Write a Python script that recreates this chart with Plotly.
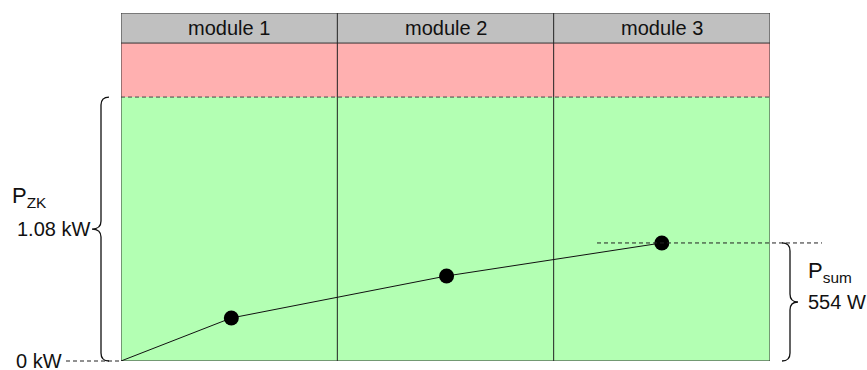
import plotly.graph_objects as go

# ---------------- data ----------------
modules = ["module 1", "module 2", "module 3"]
x_pos = [0, 0.51, 1.505, 2.5]       # position along the modules
p_cum = [0, 176, 348, 483]          # cumulative power (drawing scale, W)
P_ZK = 1080                          # DC-link power limit (W)
RED_TOP = 1301                       # top of red zone
Y_MAX = 1424                         # top of header band
label_zk = "1.08 kW"
label_zero = "0 kW"
label_sum = "554 W"

# ---------------- layout geometry ----------------
W, H = 867, 370
L, R, T, B = 121, 97, 13, 9
PW, PH = W - L - R, H - T - B
FONT = "Liberation Sans, Arial, sans-serif"
TXT = "#111111"

def px_x(px):
    return (px - L) / PW

def px_y(py):
    return (H - B - py) / PH

def val_y(v):
    return v / Y_MAX

def brace(x_line, x_end, x_tip, v0, v1, r=8):
    """curly brace between values v0 (bottom) and v1 (top); pixel x positions."""
    yb, yt = val_y(v0), val_y(v1)
    ym = (yb + yt) / 2
    ry = r / PH
    xl, xe, xt = px_x(x_line), px_x(x_end), px_x(x_tip)
    return (f"M {xe},{yt} Q {xl},{yt} {xl},{yt-ry} "
            f"L {xl},{ym+ry} Q {xl},{ym} {xt},{ym} "
            f"Q {xl},{ym} {xl},{ym-ry} "
            f"L {xl},{yb+ry} Q {xl},{yb} {xe},{yb}")

n = len(modules)
shapes = []
shapes.append(dict(type="rect", xref="x", yref="y", x0=0, x1=n, y0=0, y1=P_ZK,
                   fillcolor="#b3ffb3", line=dict(width=0), layer="below"))
shapes.append(dict(type="rect", xref="x", yref="y", x0=0, x1=n, y0=P_ZK, y1=RED_TOP,
                   fillcolor="#ffb0b0", line=dict(width=0), layer="below"))
shapes.append(dict(type="rect", xref="x", yref="y", x0=0, x1=n, y0=RED_TOP, y1=Y_MAX,
                   fillcolor="#c0c0c0", line=dict(width=0), layer="below"))
shapes.append(dict(type="line", xref="x", yref="y", x0=0, x1=n, y0=P_ZK, y1=P_ZK,
                   line=dict(color="#444444", width=1, dash="4px,3px"), layer="below"))
shapes.append(dict(type="line", xref="x", yref="y", x0=0, x1=n, y0=RED_TOP, y1=RED_TOP,
                   line=dict(color="#333333", width=1), layer="below"))
for i in range(1, n):
    shapes.append(dict(type="line", xref="x", yref="y", x0=i, x1=i, y0=0, y1=Y_MAX,
                       line=dict(color="#222222", width=1), layer="below"))
shapes.append(dict(type="rect", xref="x", yref="y", x0=0, x1=n, y0=0, y1=Y_MAX,
                   line=dict(color="#333333", width=1), layer="below"))
shapes.append(dict(type="line", xref="paper", yref="paper", x0=px_x(66), x1=0,
                   y0=0, y1=0, line=dict(color="#222222", width=1, dash="4px,3px")))
shapes.append(dict(type="line", xref="paper", yref="paper", x0=px_x(597), x1=px_x(822),
                   y0=val_y(p_cum[-1]), y1=val_y(p_cum[-1]),
                   line=dict(color="#222222", width=1, dash="4px,3px")))
shapes.append(dict(type="path", xref="paper", yref="paper",
                   path=brace(101, 109, 92, 0, P_ZK),
                   line=dict(color="#111111", width=1.3)))
shapes.append(dict(type="path", xref="paper", yref="paper",
                   path=brace(790, 782, 798, 0, p_cum[-1]),
                   line=dict(color="#111111", width=1.3)))

annotations = []
for i, m in enumerate(modules):
    annotations.append(dict(x=i + 0.5, y=(RED_TOP + Y_MAX) / 2, xref="x", yref="y",
                            text=m, showarrow=False,
                            font=dict(family=FONT, size=20, color=TXT)))
annotations.append(dict(x=px_x(10), y=px_y(197), xref="paper", yref="paper",
                        xanchor="left", yanchor="middle", showarrow=False,
                        text="P<sub>ZK</sub>",
                        font=dict(family=FONT, size=22, color=TXT)))
annotations.append(dict(x=px_x(92), y=val_y(P_ZK) / 2, xref="paper", yref="paper",
                        xanchor="right", yanchor="middle", showarrow=False,
                        text=label_zk, font=dict(family=FONT, size=20, color=TXT)))
annotations.append(dict(x=px_x(64), y=0, xref="paper", yref="paper",
                        xanchor="right", yanchor="middle", showarrow=False,
                        text=label_zero, font=dict(family=FONT, size=20, color=TXT)))
annotations.append(dict(x=px_x(806), y=px_y(272), xref="paper", yref="paper",
                        xanchor="left", yanchor="middle", showarrow=False,
                        text="P<sub>sum</sub>",
                        font=dict(family=FONT, size=22, color=TXT)))
annotations.append(dict(x=px_x(806), y=val_y(p_cum[-1]) / 2, xref="paper", yref="paper",
                        xanchor="left", yanchor="middle", showarrow=False,
                        text=label_sum, font=dict(family=FONT, size=20, color=TXT)))

fig = go.Figure()
fig.add_trace(go.Scatter(
    x=x_pos, y=p_cum, mode="lines",
    line=dict(color="#111111", width=1),
    hoverinfo="skip", showlegend=False, cliponaxis=False))
fig.add_trace(go.Scatter(
    x=x_pos[1:], y=p_cum[1:], mode="markers",
    marker=dict(color="#000000", size=15, opacity=1, line=dict(width=0)),
    hoverinfo="skip", showlegend=False, cliponaxis=False))

fig.update_layout(
    width=W, height=H,
    margin=dict(l=L, r=R, t=T, b=B, pad=0),
    paper_bgcolor="white", plot_bgcolor="white",
    xaxis=dict(range=[0, n], visible=False, fixedrange=True),
    yaxis=dict(range=[0, Y_MAX], visible=False, fixedrange=True),
    shapes=shapes, annotations=annotations, showlegend=False,
)

fig.write_html(
    "out.html",
    config={"displayModeBar": False},
    post_script="document.body.style.margin='0';document.body.style.overflow='hidden';",
)
